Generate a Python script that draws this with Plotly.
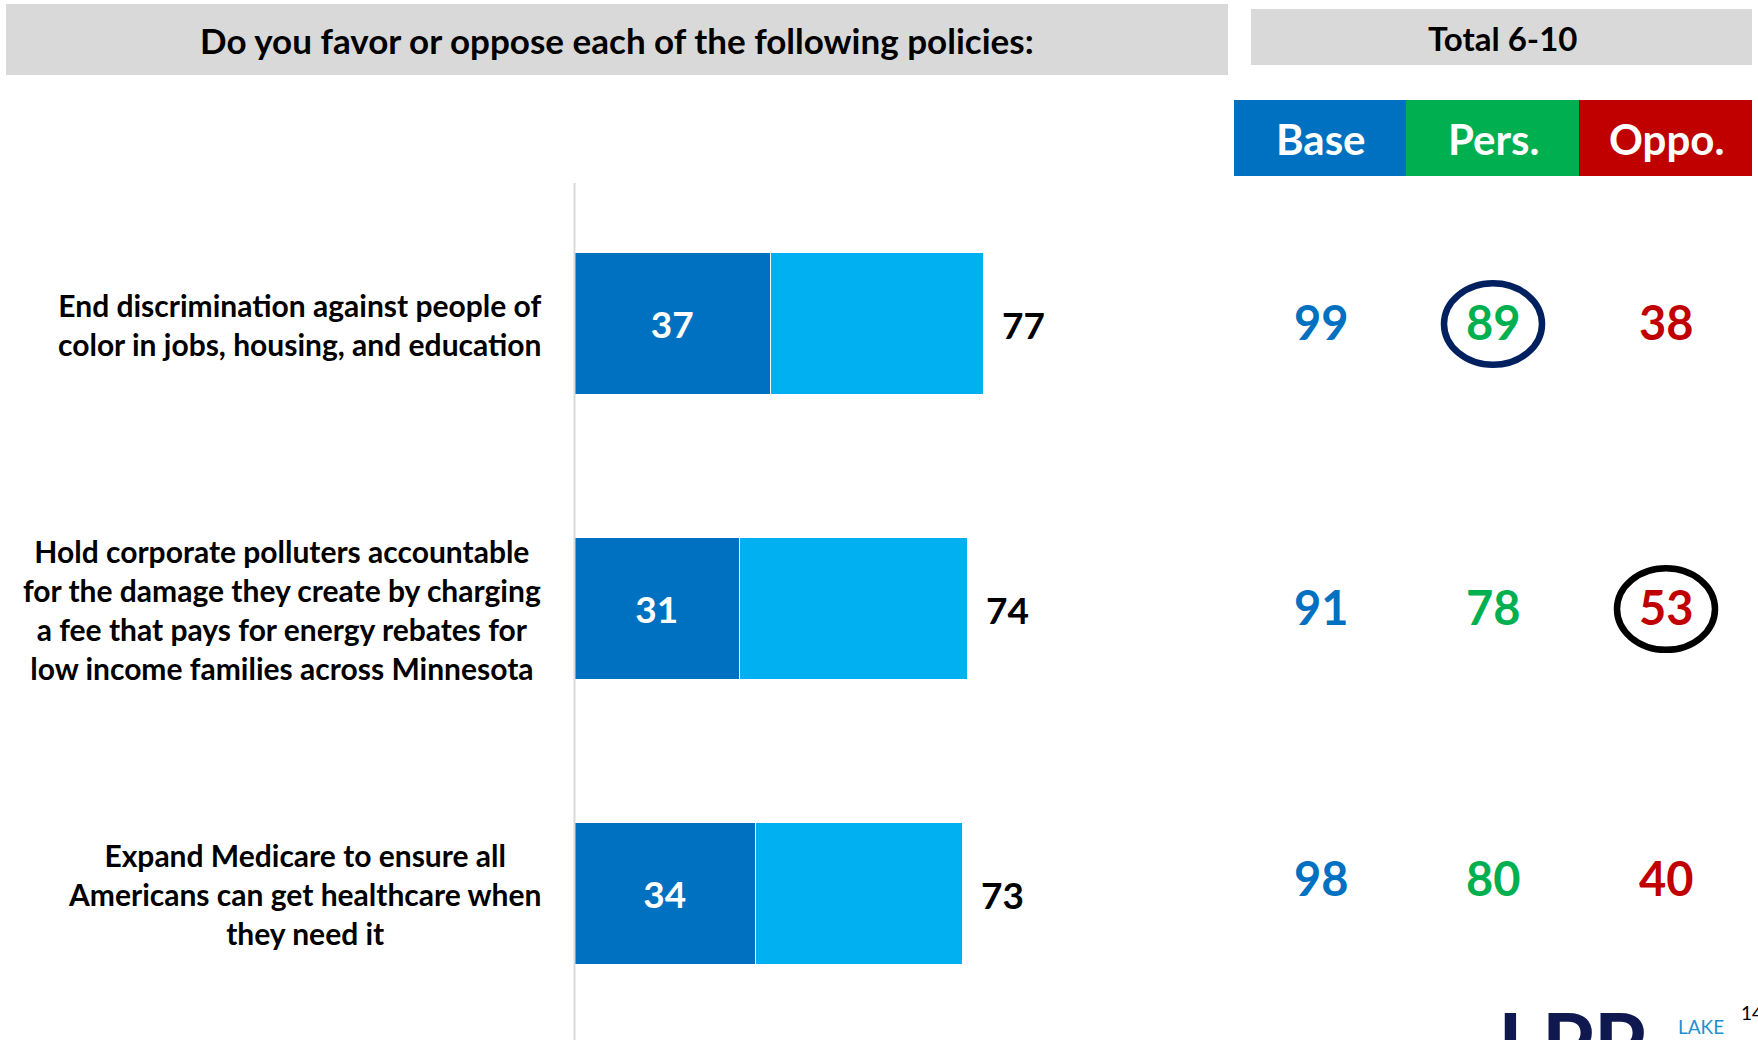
import plotly.graph_objects as go

# Survey items (one row each) and their results
policy_lines = [
    ["End discrimination against people of", "color in jobs, housing, and education"],
    ["Hold corporate polluters accountable", "for the damage they create by charging",
     "a fee that pays for energy rebates for", "low income families across Minnesota"],
    ["Expand Medicare to ensure all", "Americans can get healthcare when", "they need it"],
]
policies = ["End discrimination", "Hold corporate polluters accountable", "Expand Medicare"]
strong_favor = [37, 31, 34]
total_favor = [77, 74, 73]

segment_names = ["Base", "Pers.", "Oppo."]
segment_colors = ["#0070C0", "#00B050", "#C00000"]
base_vals = [99, 91, 98]
pers_vals = [89, 78, 80]
oppo_vals = [38, 53, 40]
# highlighted cells: (row, segment index, ring colour)
highlights = [(0, 1, "#002060"), (1, 2, "#000000")]

W, H = 1758, 1040
FONT = "Lato"
BLUE_DARK = "#0070C0"
BLUE_LIGHT = "#00B0F0"


def px(x):
    return x / W


def py(y):
    return 1 - y / H


fig = go.Figure()

fig.add_trace(go.Bar(
    y=policies, x=strong_favor, orientation="h",
    marker=dict(color=BLUE_DARK, line=dict(color="white", width=1.5)),
    text=[str(v) for v in strong_favor], textposition="inside",
    insidetextanchor="middle",
    textfont=dict(family=FONT, size=37, color="white", weight="bold"),
    width=0.5, hoverinfo="skip", showlegend=False,
))
fig.add_trace(go.Bar(
    y=policies, x=[t - s for t, s in zip(total_favor, strong_favor)], orientation="h",
    marker=dict(color=BLUE_LIGHT, line=dict(color="white", width=1.5)),
    width=0.5, hoverinfo="skip", showlegend=False,
))

annotations = []
shapes = []


def label(x, y, text, size, color, xref="paper", yref="paper", **kw):
    d = dict(x=x, y=y, xref=xref, yref=yref, text=text, showarrow=False,
             xanchor="center", yanchor="middle",
             font=dict(family=FONT, size=size, color=color))
    d.update(kw)
    annotations.append(d)


# total favor labels at the end of each bar
for cat, tot in zip(policies, total_favor):
    label(tot, cat, f"<b>{tot}</b>", 37, "black", xref="x", yref="y",
          xanchor="left", xshift=16)

# policy wording, centred block ending at the bar baseline
for cat, lines in zip(policies, policy_lines):
    label(px(543), cat, "<b>" + "<br>".join(lines) + "</b>", 30, "black",
          yref="y", xanchor="right", align="center")

# header bars
shapes.append(dict(type="rect", xref="paper", yref="paper",
                   x0=px(6), x1=px(1228), y0=py(75), y1=py(4),
                   fillcolor="#D9D9D9", line=dict(width=0), layer="below"))
label(px(617), py(40), "<b>Do you favor or oppose each of the following policies:</b>", 35, "black")
shapes.append(dict(type="rect", xref="paper", yref="paper",
                   x0=px(1251), x1=px(1752), y0=py(65), y1=py(9),
                   fillcolor="#D9D9D9", line=dict(width=0), layer="below"))
label(px(1502), py(38), "<b>Total 6-10</b>", 33, "black")

# segment columns
col_edges = [1234, 1406, 1579, 1752]
col_centers = [1321, 1493, 1666]
for i, (name, color) in enumerate(zip(segment_names, segment_colors)):
    shapes.append(dict(type="rect", xref="paper", yref="paper",
                       x0=px(col_edges[i]), x1=px(col_edges[i + 1]), y0=py(176), y1=py(100),
                       fillcolor=color, line=dict(width=0), layer="below"))
    label(px(col_centers[i]), py(139), f"<b>{name}</b>", 42, "white")

for i, vals in enumerate([base_vals, pers_vals, oppo_vals]):
    for r, (cat, v) in enumerate(zip(policies, vals)):
        label(px(col_centers[i]), cat, f"<b>{v}</b>", 47, segment_colors[i], yref="y",
              yshift=16 if r == len(policies) - 1 else 2)

for r, c, ring in highlights:
    shapes.append(dict(type="circle", xref="paper", yref="y",
                       x0=px(col_centers[c] - 49), x1=px(col_centers[c] + 49),
                       y0=r - 0.143, y1=r + 0.143,
                       line=dict(color=ring, width=6.5)))

# vertical baseline of the bars
shapes.append(dict(type="line", xref="paper", yref="paper",
                   x0=px(574.5), x1=px(574.5), y0=py(183), y1=py(1040),
                   line=dict(color="#D9D9D9", width=2)))

# footer: logo and page number
label(px(1496), py(989), "<b>LPP</b>", 84, "#101850", xanchor="left", yanchor="top")
label(px(1676), py(1026), "LAKE", 19, "#1E90D0", xanchor="left")
label(px(1739), py(1012), "14", 19, "black", xanchor="left")

fig.update_layout(
    width=W, height=H, margin=dict(l=0, r=0, t=0, b=0),
    paper_bgcolor="white", plot_bgcolor="white",
    barmode="stack", bargap=0,
    xaxis=dict(domain=[px(575), px(1106)], range=[0, 100], visible=False, fixedrange=True),
    yaxis=dict(domain=[0, 1], type="category", categoryarray=policies,
               range=[2.512, -1.137], visible=False, fixedrange=True),
    annotations=annotations, shapes=shapes,
    font=dict(family=FONT),
)

fig.write_html("out.html")
